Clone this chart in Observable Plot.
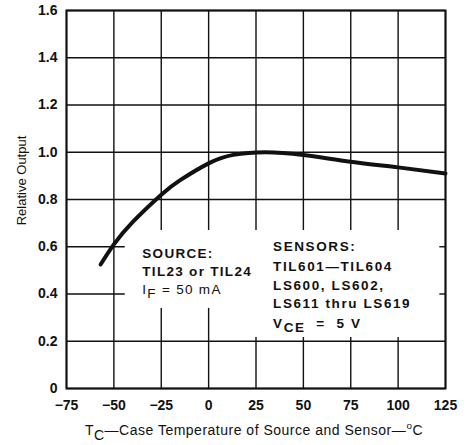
<!DOCTYPE html>
<html><head><meta charset="utf-8">
<script src="https://cdn.jsdelivr.net/npm/d3@7"></script>
<script src="https://cdn.jsdelivr.net/npm/@observablehq/plot@0.6"></script>
<style>
body{margin:0;background:#fff} svg{display:block}
.ls13 text{letter-spacing:1.3px} .ls16 text{letter-spacing:1.6px} .ls05 text{letter-spacing:0.5px}
</style>
</head><body><div id="chart"></div>
<script>
// Data
const temps  = [-57, -50, -40, -25, -15, 0, 13, 30, 50, 75, 100, 125];
const output = [0.525, 0.61, 0.705, 0.82, 0.882, 0.953, 0.989, 1.0, 0.988, 0.96, 0.936, 0.91];
const xTicks = [-75, -50, -25, 0, 25, 50, 75, 100, 125];
const yTicks = [0, 0.2, 0.4, 0.6, 0.8, 1.0, 1.2, 1.4, 1.6];
const xTitle = [{t: "T"}, {t: "C", sub: true}, {t: "\u2014Case Temperature of Source and Sensor\u2014"}, {t: "o", sup: true}, {t: "C"}];
const yTitle = "Relative Output";
const sourceLines = [
  [{t: "SOURCE:"}],
  [{t: "TIL23 or TIL24"}],
  [{t: "I"}, {t: "F", sub: true}, {t: " = 50 mA"}]
];
const sensorLines = [
  [{t: "SENSORS:"}],
  [{t: "TIL601\u2014TIL604"}],
  [{t: "LS600, LS602,"}],
  [{t: "LS611 thru LS619"}],
  [{t: "V"}, {t: "CE", sub: true}, {t: "  =  5 V"}]
];

// Layout: areas where the grid is interrupted by the annotations, and text anchors (data units)
const gaps = [
  {x1: -44, x2: 22, y1: 0.339, y2: 0.669},
  {x1: 22, x2: 122, y1: 0.216, y2: 0.669}
];
const sourcePos = {x: -35, ys: [0.554, 0.478, 0.402]};
const sensorPos = {x: 34, ys: [0.580, 0.499, 0.419, 0.339, 0.254]};

const pts = temps.map((t, i) => ({t, v: output[i]}));
const FONT = "'Liberation Sans', Arial, Helvetica, sans-serif";

// Grid segments = full grid lines minus the annotation gaps
function subtract([a, b], cuts) {
  let segs = [[a, b]];
  cuts.forEach(([c, d]) => {
    segs = segs.flatMap(([s, e]) => (d <= s || c >= e) ? [[s, e]]
      : [[s, Math.min(c, e)], [Math.max(d, s), e]].filter(([p, q]) => q > p));
  });
  return segs;
}
const vGrid = xTicks.flatMap(t => subtract([0, 1.6], gaps.filter(g => t > g.x1 && t < g.x2).map(g => [g.y1, g.y2]))
  .map(([y1, y2]) => ({x: t, y1, y2})));
const hGrid = yTicks.flatMap(v => subtract([-75, 125], gaps.filter(g => v > g.y1 && v < g.y2).map(g => [g.x1, g.x2]))
  .map(([x1, x2]) => ({y: v, x1, x2})));

const ctx = document.createElement("canvas").getContext("2d");
function measure(str, size, weight, ls) {
  ctx.font = `${weight} ${size}px ${FONT}`;
  return ctx.measureText(str).width + ls * str.length;
}
// One Plot.text mark per segment so subscripts can be offset
function rich(segs, o) {
  const sizes = segs.map(s => s.sup ? o.size * 0.7 : o.size);
  const widths = segs.map((s, i) => measure(s.t, sizes[i], o.weight, o.ls || 0));
  let dx = (o.dx0 || 0) - (o.center ? d3.sum(widths) / 2 : 0);
  return segs.map((s, i) => {
    const pos = o.frameAnchor ? {frameAnchor: o.frameAnchor} : {x: "x", y: "y"};
    const m = Plot.text([{x: o.x, y: o.y, t: s.t}], {
      ...pos, text: "t", dx,
      dy: (o.dy0 || 0) + (s.sub ? (o.subShift || 4) : s.sup ? -6 : 0),
      textAnchor: "start", lineAnchor: "bottom",
      fontSize: sizes[i], fontWeight: o.weight, fontFamily: FONT,
      fill: "#111", className: o.cls
    });
    dx += widths[i];
    return m;
  });
}

const annotationMarks = [
  ...sourceLines.flatMap((segs, i) => rich(segs, {x: sourcePos.x, y: sourcePos.ys[i], size: 13.5, weight: i < 2 ? "bold" : "normal", ls: 1.3, cls: "ls13"})),
  ...sensorLines.flatMap((segs, i) => rich(segs, {x: sensorPos.x, y: sensorPos.ys[i], size: 13.5, weight: "bold", ls: 1.6, cls: "ls16"})),
  ...rich(xTitle, {frameAnchor: "bottom", center: true, dx0: -2, dy0: 46, size: 14, weight: "normal", ls: 0.5, cls: "ls05", subShift: 5}),
  Plot.text([yTitle], {frameAnchor: "left", text: d => d, rotate: -90, dx: -45, dy: -19, textAnchor: "middle", lineAnchor: "middle", fontSize: 13, fontWeight: "normal", fontFamily: FONT, fill: "#111"})
];

const plot = Plot.plot({
  width: 467, height: 445,
  marginLeft: 66, marginRight: 22, marginTop: 10, marginBottom: 57,
  style: {fontFamily: FONT, fontSize: "14px", fontWeight: "bold", color: "#111", background: "#fff"},
  x: {domain: [-75, 125], ticks: xTicks, label: null},
  y: {domain: [0, 1.6], ticks: yTicks, label: null},
  marks: [
    Plot.ruleX(vGrid, {x: "x", y1: "y1", y2: "y2", stroke: "#111", strokeWidth: 1.4}),
    Plot.ruleY(hGrid, {y: "y", x1: "x1", x2: "x2", stroke: "#111", strokeWidth: 1.4}),
    Plot.frame({stroke: "#111", strokeWidth: 2}),
    Plot.axisX(xTicks, {tickSize: 0, tickPadding: 12, tickFormat: d => d < 0 ? "\u2212" + Math.abs(d) : String(d), fontSize: 14}),
    Plot.axisY(yTicks, {tickSize: 0, tickPadding: 9, tickFormat: d => d === 0 ? "0" : d.toFixed(1), fontSize: 14}),
    Plot.line(pts, {x: "t", y: "v", curve: "natural", stroke: "#111", strokeWidth: 4}),
    ...annotationMarks
  ]
});
document.getElementById("chart").appendChild(plot);
</script></body></html>
